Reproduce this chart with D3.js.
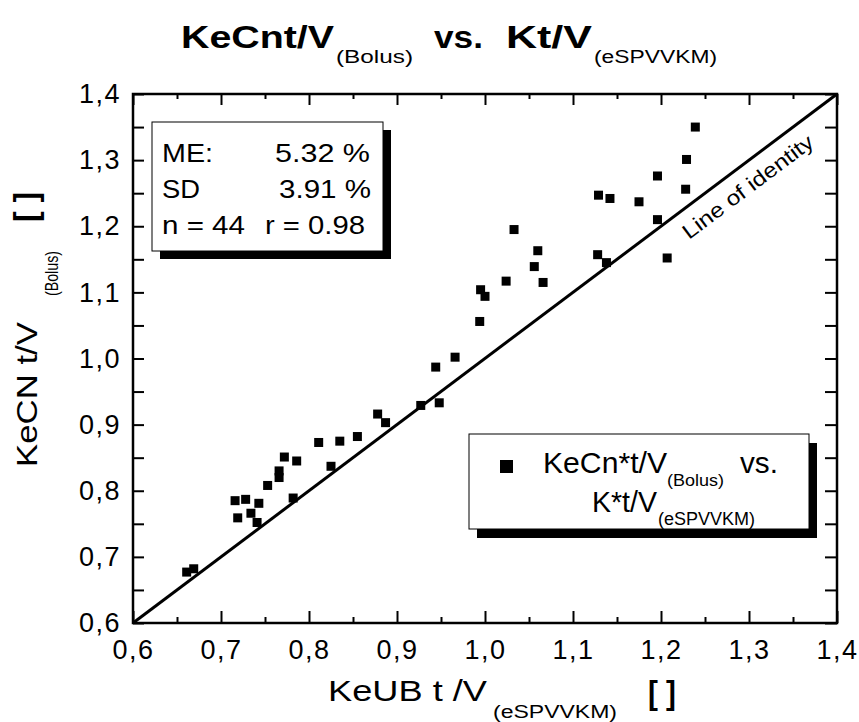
<!DOCTYPE html>
<html>
<head>
<meta charset="utf-8">
<script src="https://cdn.jsdelivr.net/npm/d3@7"></script>
<style>
  html, body { margin: 0; padding: 0; background: #fff; }
  svg { display: block; font-family: "Liberation Sans", Arial, sans-serif; }
</style>
</head>
<body>
<div id="chart"></div>
<script>
// measured values: KeUB t/V (eSPVVKM) on x, KeCN t/V (Bolus) on y
const ktvSpvvkm = [0.661, 0.669, 0.716, 0.728, 0.719, 0.734, 0.743, 0.741, 0.753, 0.766,
  0.766, 0.772, 0.786, 0.782, 0.811, 0.825, 0.835, 0.855, 0.878, 0.887,
  0.927, 0.948, 0.944, 0.966, 0.994, 0.995, 1.000, 1.024, 1.033, 1.056,
  1.060, 1.066, 1.128, 1.138, 1.129, 1.142, 1.175, 1.196, 1.196, 1.207,
  1.228, 1.229, 1.239];
const ktvBolus = [0.677, 0.682, 0.785, 0.787, 0.759, 0.766, 0.781, 0.752, 0.808, 0.830,
  0.820, 0.851, 0.845, 0.789, 0.873, 0.837, 0.875, 0.882, 0.916, 0.903,
  0.929, 0.933, 0.987, 1.002, 1.056, 1.104, 1.094, 1.117, 1.195, 1.139,
  1.163, 1.115, 1.157, 1.145, 1.247, 1.242, 1.237, 1.276, 1.210, 1.152,
  1.256, 1.301, 1.350];

const identity = [0.6, 1.4];
const majorTicks = [0.6, 0.7, 0.8, 0.9, 1.0, 1.1, 1.2, 1.3, 1.4];
const minorTicks = [0.65, 0.75, 0.85, 0.95, 1.05, 1.15, 1.25, 1.35];

const statLabels = ['ME:', 'SD', 'n = 44'];
const statValues = ['5.32 %', '3.91 %', 'r = 0.98'];

const W = 859, H = 722;
const margin = { top: 94, right: 22, bottom: 99, left: 133 };

const svg = d3.select('#chart').append('svg')
  .attr('width', W)
  .attr('height', H);

const x = d3.scaleLinear().domain([0.6, 1.4]).range([margin.left, W - margin.right]);
const y = d3.scaleLinear().domain([0.6, 1.4]).range([H - margin.bottom, margin.top]);

const fmt = d => d3.format('.1f')(d).replace('.', ',');

// text with a fixed rendered width
function label(g, txt, px, py, size, width, opts = {}) {
  const t = g.append('text')
    .attr('x', px)
    .attr('y', py)
    .attr('font-size', size)
    .attr('font-weight', opts.bold ? 'bold' : 'normal')
    .attr('fill', '#000')
    .text(txt);
  if (width) t.attr('textLength', width).attr('lengthAdjust', 'spacingAndGlyphs');
  if (opts.anchor) t.attr('text-anchor', opts.anchor);
  return t;
}

// ===== AXES =====
const x0 = y(0.6), y0 = x(0.6);

svg.append('g')
  .attr('transform', `translate(0,${x0})`)
  .call(d3.axisBottom(x).tickValues(majorTicks).tickSize(-12).tickSizeOuter(0)
    .tickPadding(17).tickFormat(fmt));
svg.append('g')
  .attr('transform', `translate(0,${x0})`)
  .call(d3.axisBottom(x).tickValues(minorTicks).tickSize(-6).tickSizeOuter(0).tickFormat(''));

svg.append('g')
  .attr('transform', `translate(0,${y(1.4)})`)
  .call(d3.axisTop(x).tickValues(majorTicks).tickSize(-11).tickSizeOuter(0).tickFormat(''));
svg.append('g')
  .attr('transform', `translate(0,${y(1.4)})`)
  .call(d3.axisTop(x).tickValues(minorTicks).tickSize(-5).tickSizeOuter(0).tickFormat(''));

svg.append('g')
  .attr('transform', `translate(${y0},0)`)
  .call(d3.axisLeft(y).tickValues(majorTicks).tickSize(-11).tickSizeOuter(0)
    .tickPadding(12).tickFormat(fmt));
svg.append('g')
  .attr('transform', `translate(${y0},0)`)
  .call(d3.axisLeft(y).tickValues(minorTicks).tickSize(-11).tickSizeOuter(0).tickFormat(''));

svg.append('g')
  .attr('transform', `translate(${x(1.4)},0)`)
  .call(d3.axisRight(y).tickValues(majorTicks.concat(minorTicks)).tickSize(-12).tickSizeOuter(0).tickFormat(''));

svg.selectAll('.domain').remove();
svg.selectAll('.tick line').attr('stroke', '#000').attr('stroke-width', 2);
svg.selectAll('.tick text')
  .attr('font-size', 27)
  .attr('font-family', '"Liberation Sans", Arial, sans-serif')
  .attr('letter-spacing', 1.5)
  .attr('fill', '#000');

svg.append('rect')
  .attr('x', x(0.6)).attr('y', y(1.4))
  .attr('width', x(1.4) - x(0.6)).attr('height', y(0.6) - y(1.4))
  .attr('fill', 'none').attr('stroke', '#000').attr('stroke-width', 2.5);

// ===== LINE OF IDENTITY =====
svg.append('line')
  .attr('x1', x(identity[0])).attr('y1', y(identity[0]))
  .attr('x2', x(identity[1])).attr('y2', y(identity[1]))
  .attr('stroke', '#000').attr('stroke-width', 3);

const ang = Math.atan2(y(1.4) - y(0.6), x(1.4) - x(0.6)) * 180 / Math.PI;
svg.append('text')
  .attr('transform', `translate(689,240) rotate(${ang})`)
  .attr('font-size', 21)
  .attr('textLength', 158)
  .attr('lengthAdjust', 'spacingAndGlyphs')
  .text('Line of identity');

// ===== POINTS =====
const pts = ktvSpvvkm.map((v, i) => ({ x: v, y: ktvBolus[i] }));
const s = 9;
svg.selectAll('.pt')
  .data(pts)
  .join('rect')
  .attr('class', 'pt')
  .attr('x', d => x(d.x) - s / 2)
  .attr('y', d => y(d.y) - s / 2)
  .attr('width', s).attr('height', s)
  .attr('fill', '#000');

// ===== STATS BOX =====
svg.append('rect').attr('x', 160).attr('y', 130).attr('width', 231).attr('height', 129).attr('fill', '#000');
svg.append('rect').attr('x', 152).attr('y', 122).attr('width', 231).attr('height', 129)
  .attr('fill', '#fff').attr('stroke', '#000').attr('stroke-width', 1);
const stats = svg.append('g');
const statY = [162, 198, 234];
const statLW = [51, 38, 83];
const statVW = [95, 92, 100];
const statVR = [370, 371, 365];
statLabels.forEach((t, i) => label(stats, t, 162, statY[i], 25, statLW[i]));
statValues.forEach((t, i) => label(stats, t, statVR[i] - statVW[i], statY[i], 25, statVW[i]));

// ===== LEGEND =====
svg.append('rect').attr('x', 477).attr('y', 443).attr('width', 340).attr('height', 95).attr('fill', '#000');
svg.append('rect').attr('x', 469).attr('y', 434).attr('width', 340).attr('height', 95)
  .attr('fill', '#fff').attr('stroke', '#000').attr('stroke-width', 1);
svg.append('rect').attr('x', 500).attr('y', 460).attr('width', 13).attr('height', 13).attr('fill', '#000');
const leg = svg.append('g');
label(leg, 'KeCn*t/V', 543, 473, 30, 124);
label(leg, '(Bolus)', 667, 486, 17, 57);
label(leg, 'vs.', 740, 473, 30, 38);
label(leg, 'K*t/V', 592, 512, 30, 65);
label(leg, '(eSPVVKM)', 658, 525, 18, 97);

// ===== TITLE =====
const title = svg.append('g');
label(title, 'KeCnt/V', 181, 48, 32, 153, { bold: true });
label(title, '(Bolus)', 336, 63, 18, 77);
label(title, 'vs.', 434, 48, 32, 49, { bold: true });
label(title, 'Kt/V', 506, 48, 32, 86, { bold: true });
label(title, '(eSPVVKM)', 594, 63, 18, 123);

// ===== AXIS TITLES =====
const xt = svg.append('g');
label(xt, 'KeUB t /V', 328, 701, 30, 159);
label(xt, '(eSPVVKM)', 493, 718, 18, 124);
label(xt, '[ ]', 648, 704, 34, 28, { bold: true });

const yt = svg.append('g').attr('transform', 'translate(37,0) rotate(-90)');
label(yt, 'KeCN t/V', -467, 0, 30, 145);
label(yt, '(Bolus)', -296, 21, 18, 45);
label(yt, '[ ]', -222, 0, 34, 30, { bold: true });
</script>
</body>
</html>
